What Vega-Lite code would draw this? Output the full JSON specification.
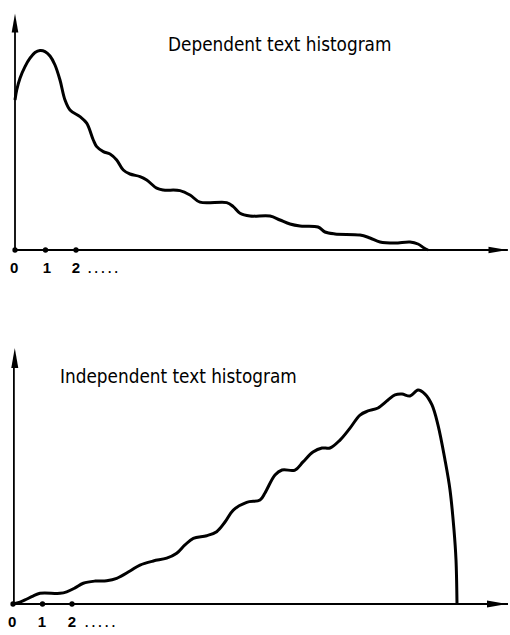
{
  "$schema": "https://vega.github.io/schema/vega-lite/v6.json",
  "padding": 0,
  "spacing": 0,
  "bounds": "flush",
  "config": {"view": {"stroke": null}, "concat": {"spacing": 0}},
  "datasets": {
    "dep": [
      {"x": 0, "y": 75}, {"x": 0.056, "y": 80}, {"x": 0.164, "y": 85.9}, {"x": 0.328, "y": 91.7},
      {"x": 0.492, "y": 95.9}, {"x": 0.656, "y": 98.7}, {"x": 0.82, "y": 99.7}, {"x": 0.984, "y": 99.2},
      {"x": 1.148, "y": 97}, {"x": 1.311, "y": 92.5}, {"x": 1.475, "y": 85}, {"x": 1.639, "y": 75},
      {"x": 1.803, "y": 70}, {"x": 2.131, "y": 66.7}, {"x": 2.351, "y": 63.4}, {"x": 2.567, "y": 55},
      {"x": 2.679, "y": 51.7}, {"x": 2.895, "y": 49.2}, {"x": 3.115, "y": 48}, {"x": 3.334, "y": 45},
      {"x": 3.551, "y": 40}, {"x": 3.77, "y": 38}, {"x": 4.098, "y": 36.7}, {"x": 4.318, "y": 35},
      {"x": 4.646, "y": 30.9}, {"x": 4.862, "y": 30}, {"x": 5.41, "y": 29.7}, {"x": 5.738, "y": 27.5},
      {"x": 6.066, "y": 23.9}, {"x": 6.941, "y": 23.7}, {"x": 7.157, "y": 21.7}, {"x": 7.377, "y": 18.4},
      {"x": 7.705, "y": 17}, {"x": 8.361, "y": 17}, {"x": 8.689, "y": 15}, {"x": 9.016, "y": 13},
      {"x": 9.344, "y": 12}, {"x": 9.934, "y": 11.5}, {"x": 10.164, "y": 9}, {"x": 10.492, "y": 8},
      {"x": 11.311, "y": 7.5}, {"x": 11.639, "y": 6}, {"x": 11.967, "y": 4}, {"x": 12.459, "y": 3.5},
      {"x": 12.951, "y": 4}, {"x": 13.213, "y": 3}, {"x": 13.41, "y": 1}, {"x": 13.541, "y": 0}
    ],
    "ind": [
      {"x": 0, "y": 0}, {"x": 0.237, "y": 0.9}, {"x": 0.407, "y": 1.9}, {"x": 0.678, "y": 3.7},
      {"x": 0.915, "y": 5}, {"x": 1.593, "y": 5}, {"x": 1.82, "y": 5.7}, {"x": 2.102, "y": 7.5},
      {"x": 2.383, "y": 9.7}, {"x": 2.78, "y": 10.7}, {"x": 3.176, "y": 10.9}, {"x": 3.515, "y": 12},
      {"x": 3.966, "y": 15.4}, {"x": 4.305, "y": 18.2}, {"x": 4.756, "y": 20.1}, {"x": 5.21, "y": 21.4},
      {"x": 5.549, "y": 23.7}, {"x": 5.83, "y": 27.6}, {"x": 6.112, "y": 30.7}, {"x": 6.566, "y": 31.9},
      {"x": 6.905, "y": 33.8}, {"x": 7.186, "y": 38.3}, {"x": 7.468, "y": 43.9}, {"x": 7.922, "y": 47.5},
      {"x": 8.373, "y": 48.6}, {"x": 8.542, "y": 51.9}, {"x": 8.881, "y": 60.3}, {"x": 9.119, "y": 62.6},
      {"x": 9.559, "y": 62.6}, {"x": 9.831, "y": 66.4}, {"x": 10.169, "y": 71}, {"x": 10.475, "y": 72.9},
      {"x": 10.746, "y": 72.9}, {"x": 11.085, "y": 76.6}, {"x": 11.424, "y": 82.2}, {"x": 11.763, "y": 88.3},
      {"x": 12.034, "y": 90.2}, {"x": 12.373, "y": 91.6}, {"x": 12.712, "y": 95.3}, {"x": 12.949, "y": 97.7},
      {"x": 13.186, "y": 98.1}, {"x": 13.458, "y": 97.2}, {"x": 13.729, "y": 100}, {"x": 13.966, "y": 98.1},
      {"x": 14.203, "y": 93}, {"x": 14.407, "y": 83.6}, {"x": 14.644, "y": 67.3}, {"x": 14.814, "y": 53.3},
      {"x": 14.949, "y": 34.6}, {"x": 15.017, "y": 20.6}, {"x": 15.051, "y": 0}
    ],
    "depFrame": [
      {"kind": "axis", "x": 0, "y": 0, "x2": 16.16, "y2": 0},
      {"kind": "axis", "x": 0, "y": 0, "x2": 0, "y2": 113},
      {"kind": "arrow", "dir": "up", "x": 0, "y": 113.5},
      {"kind": "arrow", "dir": "right", "x": 15.836, "y": 0},
      {"kind": "tick", "x": 0, "y": 0}, {"kind": "tick", "x": 1, "y": 0}, {"kind": "tick", "x": 2, "y": 0},
      {"kind": "label", "x": -0.03, "y": -11.5, "t": "0"},
      {"kind": "label", "x": 1.05, "y": -11.5, "t": "1"},
      {"kind": "label", "x": 2.0, "y": -11.5, "t": "2"},
      {"kind": "more", "x": 2.39, "y": -11.5, "t": ". . . . ."},
      {"kind": "title", "x": 5.016, "y": 99.5, "t": "Dependent text histogram"}
    ],
    "indFrame": [
      {"kind": "axis", "x": 0, "y": 0, "x2": 16.78, "y2": 0},
      {"kind": "axis", "x": 0.03, "y": 0, "x2": 0.03, "y2": 114},
      {"kind": "arrow", "dir": "up", "x": 0.06, "y": 114.95},
      {"kind": "arrow", "dir": "right", "x": 16.407, "y": 0},
      {"kind": "tick", "x": 0, "y": 0}, {"kind": "tick", "x": 1, "y": 0}, {"kind": "tick", "x": 2, "y": 0},
      {"kind": "label", "x": -0.03, "y": -10.6, "t": "0"},
      {"kind": "label", "x": 0.98, "y": -10.6, "t": "1"},
      {"kind": "label", "x": 2.0, "y": -10.6, "t": "2"},
      {"kind": "more", "x": 2.44, "y": -10.6, "t": ". . . . ."},
      {"kind": "title", "x": 1.593, "y": 103.3, "t": "Independent text histogram"}
    ]
  },
  "vconcat": [
    {
      "width": 510,
      "height": 300,
      "encoding": {
        "x": {"field": "x", "type": "quantitative", "scale": {"domain": [-0.4918, 16.2295], "nice": false, "zero": false}, "axis": null},
        "y": {"field": "y", "type": "quantitative", "scale": {"domain": [-25, 125], "nice": false, "zero": false}, "axis": null}
      },
      "layer": [
        {"data": {"name": "depFrame"}, "transform": [{"filter": "datum.kind === 'axis'"}],
         "mark": {"type": "rule", "color": "black", "strokeWidth": 1.8},
         "encoding": {"x2": {"field": "x2"}, "y2": {"field": "y2"}}},
        {"data": {"name": "depFrame"}, "transform": [{"filter": "datum.kind === 'arrow'"}],
         "mark": {"type": "point", "filled": true, "color": "black", "opacity": 1, "size": 360},
         "encoding": {"shape": {"field": "dir", "type": "nominal", "scale": {"domain": ["up", "right"], "range": ["M0,-1L0.35,1L-0.35,1Z", "M1,0L-1,0.35L-1,-0.35Z"]}, "legend": null}}},
        {"data": {"name": "depFrame"}, "transform": [{"filter": "datum.kind === 'tick'"}],
         "mark": {"type": "circle", "color": "black", "opacity": 1, "size": 28}},
        {"data": {"name": "dep"},
         "mark": {"type": "line", "interpolate": "catmull-rom", "color": "black", "strokeWidth": 3}},
        {"data": {"name": "depFrame"}, "transform": [{"filter": "datum.kind === 'label'"}],
         "mark": {"type": "text", "align": "center", "baseline": "alphabetic", "font": "Liberation Sans", "fontWeight": "bold", "fontSize": 15, "color": "black"},
         "encoding": {"text": {"field": "t"}}},
        {"data": {"name": "depFrame"}, "transform": [{"filter": "datum.kind === 'more'"}],
         "mark": {"type": "text", "align": "left", "baseline": "alphabetic", "font": "Liberation Sans", "fontWeight": "bold", "fontSize": 12, "color": "black"},
         "encoding": {"text": {"field": "t"}}},
        {"data": {"name": "depFrame"}, "transform": [{"filter": "datum.kind === 'title'"}],
         "mark": {"type": "text", "align": "left", "baseline": "alphabetic", "font": "DejaVu Sans Condensed, DejaVu Sans", "fontSize": 18.8, "color": "black"},
         "encoding": {"text": {"field": "t"}}}
      ]
    },
    {
      "width": 510,
      "height": 335,
      "encoding": {
        "x": {"field": "x", "type": "quantitative", "scale": {"domain": [-0.4407, 16.8475], "nice": false, "zero": false}, "axis": null},
        "y": {"field": "y", "type": "quantitative", "scale": {"domain": [-14.49, 142.06], "nice": false, "zero": false}, "axis": null}
      },
      "layer": [
        {"data": {"name": "indFrame"}, "transform": [{"filter": "datum.kind === 'axis'"}],
         "mark": {"type": "rule", "color": "black", "strokeWidth": 1.8},
         "encoding": {"x2": {"field": "x2"}, "y2": {"field": "y2"}}},
        {"data": {"name": "indFrame"}, "transform": [{"filter": "datum.kind === 'arrow'"}],
         "mark": {"type": "point", "filled": true, "color": "black", "opacity": 1, "size": 400},
         "encoding": {"shape": {"field": "dir", "type": "nominal", "scale": {"domain": ["up", "right"], "range": ["M0,-1L0.35,1L-0.35,1Z", "M1,0L-1,0.35L-1,-0.35Z"]}, "legend": null}}},
        {"data": {"name": "indFrame"}, "transform": [{"filter": "datum.kind === 'tick'"}],
         "mark": {"type": "circle", "color": "black", "opacity": 1, "size": 28}},
        {"data": {"name": "ind"},
         "mark": {"type": "line", "interpolate": "catmull-rom", "color": "black", "strokeWidth": 3}},
        {"data": {"name": "indFrame"}, "transform": [{"filter": "datum.kind === 'label'"}],
         "mark": {"type": "text", "align": "center", "baseline": "alphabetic", "font": "Liberation Sans", "fontWeight": "bold", "fontSize": 15, "color": "black"},
         "encoding": {"text": {"field": "t"}}},
        {"data": {"name": "indFrame"}, "transform": [{"filter": "datum.kind === 'more'"}],
         "mark": {"type": "text", "align": "left", "baseline": "alphabetic", "font": "Liberation Sans", "fontWeight": "bold", "fontSize": 12, "color": "black"},
         "encoding": {"text": {"field": "t"}}},
        {"data": {"name": "indFrame"}, "transform": [{"filter": "datum.kind === 'title'"}],
         "mark": {"type": "text", "align": "left", "baseline": "alphabetic", "font": "DejaVu Sans Condensed, DejaVu Sans", "fontSize": 18.8, "color": "black"},
         "encoding": {"text": {"field": "t"}}}
      ]
    }
  ]
}
